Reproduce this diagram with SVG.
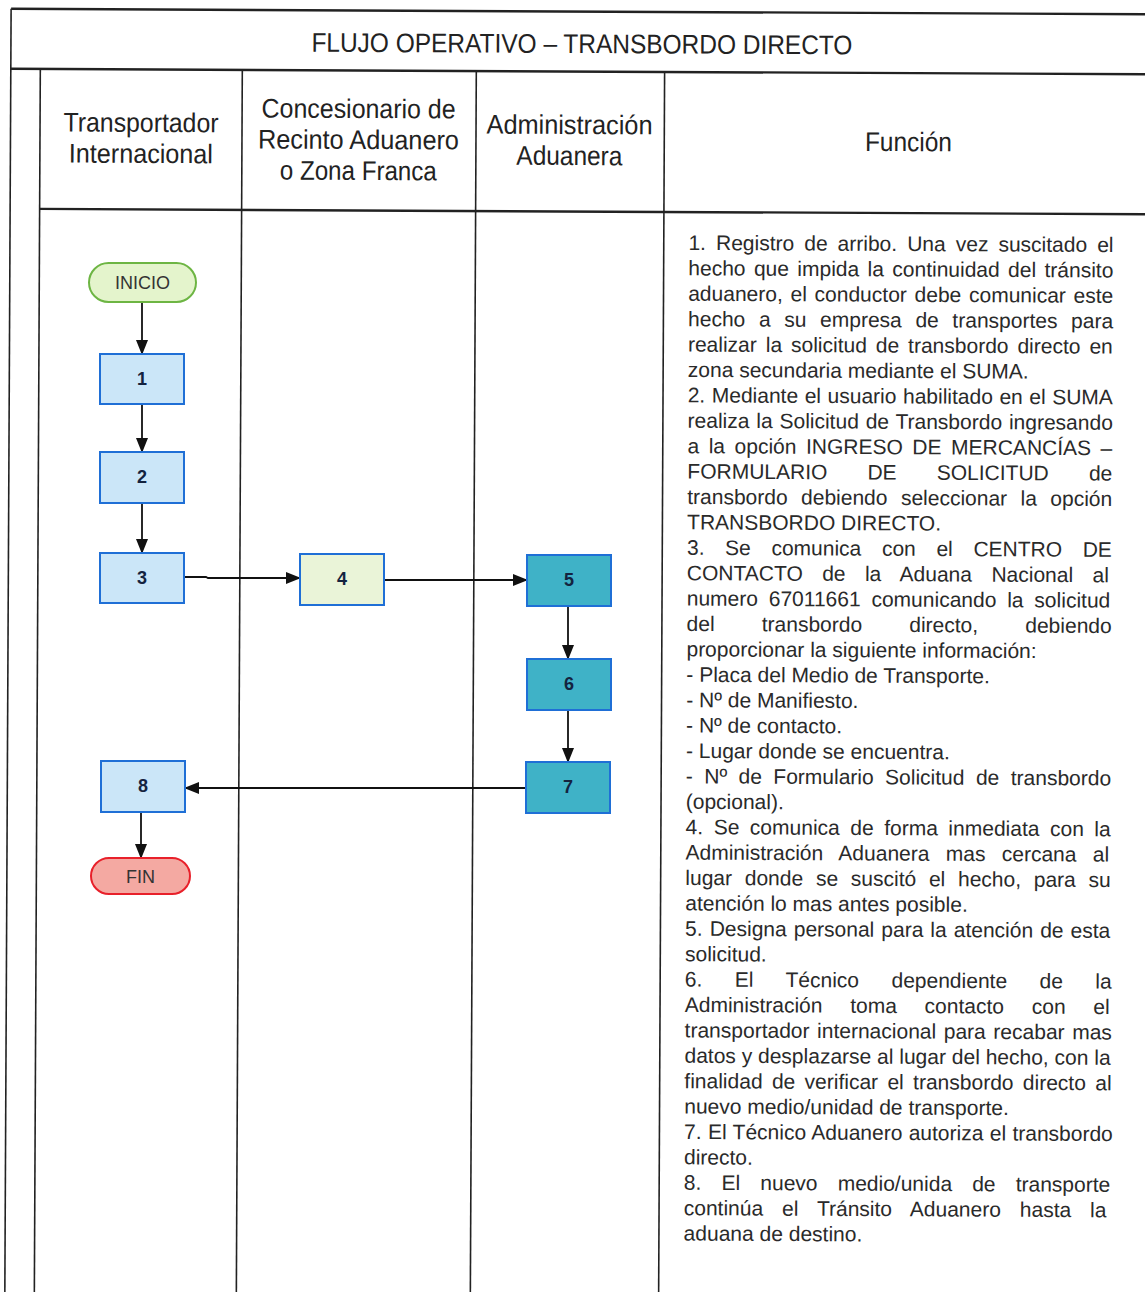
<svg xmlns="http://www.w3.org/2000/svg" width="1145" height="1292" viewBox="0 0 1145 1292">
<defs>
<style>
.ln{stroke:#222;stroke-width:1.6;fill:none}
.thick{stroke:#222;stroke-width:2.4;fill:none}
.hd{font-family:"Liberation Sans",Arial,sans-serif;font-size:27px;fill:#222;text-anchor:middle}
.bd{font-family:"Liberation Sans",Arial,sans-serif;font-size:21px;fill:#2a2a2a}
.box{stroke:#1f6fd6;stroke-width:2}
.lb{fill:#cbe6f8}
.yg{fill:#eaf4d8}
.tl{fill:#3fb2c7}
.num{font-family:"Liberation Sans",Arial,sans-serif;font-size:18px;font-weight:bold;fill:#14233f;text-anchor:middle}
.term{font-family:"Liberation Sans",Arial,sans-serif;font-size:18px;fill:#333;text-anchor:middle}
.cn{stroke:#111;stroke-width:1.8;fill:none;marker-end:url(#ah)}
</style>
<marker id="ah" markerUnits="userSpaceOnUse" markerWidth="15" markerHeight="12" refX="14" refY="6" orient="auto"><path d="M0,0 L15,6 L0,12 Z" fill="#111"/></marker>
</defs>
<rect width="1145" height="1292" fill="#fff"/>
<g id="table" transform="rotate(0.28 572 646)">
<path class="thick" d="M8,11.5 H1160"/>
<path class="ln" d="M8,11.5 V1310"/>
<path class="thick" d="M8,71.5 H1160"/>
<path class="ln" d="M37.5,71.5 V1310"/>
<path class="thick" d="M37.5,211.5 H1160"/>
<path class="ln" d="M239.5,71.5 V1310"/>
<path class="ln" d="M473.5,71.5 V1310"/>
<path class="ln" d="M661.8,71.5 V1310"/>
<text class="hd" x="579" y="53" textLength="541" lengthAdjust="spacingAndGlyphs">FLUJO OPERATIVO – TRANSBORDO DIRECTO</text>
<text class="hd" x="138.5" y="134" textLength="155" lengthAdjust="spacingAndGlyphs">Transportador</text>
<text class="hd" x="138.5" y="165" textLength="144" lengthAdjust="spacingAndGlyphs">Internacional</text>
<text class="hd" x="356" y="119" textLength="194" lengthAdjust="spacingAndGlyphs">Concesionario de</text>
<text class="hd" x="356" y="150" textLength="201" lengthAdjust="spacingAndGlyphs">Recinto Aduanero</text>
<text class="hd" x="356" y="181" textLength="157" lengthAdjust="spacingAndGlyphs">o Zona Franca</text>
<text class="hd" x="567" y="134" textLength="166" lengthAdjust="spacingAndGlyphs">Administración</text>
<text class="hd" x="567" y="165" textLength="106" lengthAdjust="spacingAndGlyphs">Aduanera</text>
<text class="hd" x="906" y="149.5" textLength="87" lengthAdjust="spacingAndGlyphs">Función</text>
<g id="funcion-text" class="bd">
<text x="686.5" y="249.4" word-spacing="4.2">1. Registro de arribo. Una vez suscitado el</text>
<text x="686.5" y="274.8" word-spacing="2.55">hecho que impida la continuidad del tránsito</text>
<text x="686.5" y="300.2" word-spacing="1.9">aduanero, el conductor debe comunicar este</text>
<text x="686.5" y="325.6" word-spacing="7.8">hecho a su empresa de transportes para</text>
<text x="686.5" y="351.0" word-spacing="3.1">realizar la solicitud de transbordo directo en</text>
<text x="686.5" y="376.4">zona secundaria mediante el SUMA.</text>
<text x="686.5" y="401.8" word-spacing="0.7">2. Mediante el usuario habilitado en el SUMA</text>
<text x="686.5" y="427.2" word-spacing="1.0">realiza la Solicitud de Transbordo ingresando</text>
<text x="686.5" y="452.6" word-spacing="3.7">a la opción INGRESO DE MERCANCÍAS –</text>
<text x="686.5" y="478.0" word-spacing="34.3">FORMULARIO DE SOLICITUD de</text>
<text x="686.5" y="503.4" word-spacing="7.6">transbordo debiendo seleccionar la opción</text>
<text x="686.5" y="528.8">TRANSBORDO DIRECTO.</text>
<text x="686.5" y="554.2" word-spacing="14.8">3. Se comunica con el CENTRO DE</text>
<text x="686.5" y="579.6" word-spacing="13.6">CONTACTO de la Aduana Nacional al</text>
<text x="686.5" y="605.0" word-spacing="5.0">numero 67011661 comunicando la solicitud</text>
<text x="686.5" y="630.4" word-spacing="41.3">del transbordo directo, debiendo</text>
<text x="686.5" y="655.8">proporcionar la siguiente información:</text>
<text x="686.5" y="681.2">- Placa del Medio de Transporte.</text>
<text x="686.5" y="706.6">- Nº de Manifiesto.</text>
<text x="686.5" y="732.0">- Nº de contacto.</text>
<text x="686.5" y="757.4">- Lugar donde se encuentra.</text>
<text x="686.5" y="782.8" word-spacing="5.6">- Nº de Formulario Solicitud de transbordo</text>
<text x="686.5" y="808.2">(opcional).</text>
<text x="686.5" y="833.6" word-spacing="4.7">4. Se comunica de forma inmediata con la</text>
<text x="686.5" y="859.0" word-spacing="10.5">Administración Aduanera mas cercana al</text>
<text x="686.5" y="884.4" word-spacing="6.9">lugar donde se suscitó el hecho, para su</text>
<text x="686.5" y="909.8">atención lo mas antes posible.</text>
<text x="686.5" y="935.2" word-spacing="1.2">5. Designa personal para la atención de esta</text>
<text x="686.5" y="960.6">solicitud.</text>
<text x="686.5" y="986.0" word-spacing="26.6">6. El Técnico dependiente de la</text>
<text x="686.5" y="1011.4" word-spacing="21.9">Administración toma contacto con el</text>
<text x="686.5" y="1036.8" word-spacing="1.75">transportador internacional para recabar mas</text>
<text x="686.5" y="1062.2">datos y desplazarse al lugar del hecho, con la</text>
<text x="686.5" y="1087.6" word-spacing="3.5">finalidad de verificar el transbordo directo al</text>
<text x="686.5" y="1113.0">nuevo medio/unidad de transporte.</text>
<text x="686.5" y="1138.4" word-spacing="0.5">7. El Técnico Aduanero autoriza el transbordo</text>
<text x="686.5" y="1163.8">directo.</text>
<text x="686.5" y="1189.2" word-spacing="14.3">8. El nuevo medio/unida de transporte</text>
<text x="686.5" y="1214.6" word-spacing="13.1">continúa el Tránsito Aduanero hasta la</text>
<text x="686.5" y="1240.0">aduana de destino.</text>
</g>
</g>
<g id="connectors">
<path class="cn" d="M142,302 V354"/>
<path class="cn" d="M142,404 V452"/>
<path class="cn" d="M142,503 V553"/>
<path class="cn" d="M184,577 H206 L208,578 H300"/>
<path class="cn" d="M384,580 H527"/>
<path class="cn" d="M568,606 V659"/>
<path class="cn" d="M568,710 V762"/>
<path class="cn" d="M526,788 H185"/>
<path class="cn" d="M141,812 V858"/>
</g>
<g id="node-inicio"><rect x="89" y="263" width="107" height="39" rx="19.5" fill="#e4f4cc" stroke="#6db543" stroke-width="2"/><text class="term" x="142.5" y="289">INICIO</text></g>
<g id="node-1"><rect class="box lb" x="100" y="354" width="84" height="50"/><text class="num" x="142" y="385">1</text></g>
<g id="node-2"><rect class="box lb" x="100" y="452" width="84" height="51"/><text class="num" x="142" y="483">2</text></g>
<g id="node-3"><rect class="box lb" x="100" y="553" width="84" height="50"/><text class="num" x="142" y="584">3</text></g>
<g id="node-4"><rect class="box yg" x="300" y="554" width="84" height="51"/><text class="num" x="342" y="585">4</text></g>
<g id="node-5"><rect class="box tl" x="527" y="555" width="84" height="51"/><text class="num" x="569" y="586">5</text></g>
<g id="node-6"><rect class="box tl" x="527" y="659" width="84" height="51"/><text class="num" x="569" y="690">6</text></g>
<g id="node-7"><rect class="box tl" x="526" y="762" width="84" height="51"/><text class="num" x="568" y="793">7</text></g>
<g id="node-8"><rect class="box lb" x="101" y="761" width="84" height="51"/><text class="num" x="143" y="792">8</text></g>
<g id="node-fin"><rect x="91" y="858" width="99" height="36" rx="18" fill="#f4a9a2" stroke="#e8202a" stroke-width="2"/><text class="term" x="140.5" y="882.5">FIN</text></g>
</svg>
